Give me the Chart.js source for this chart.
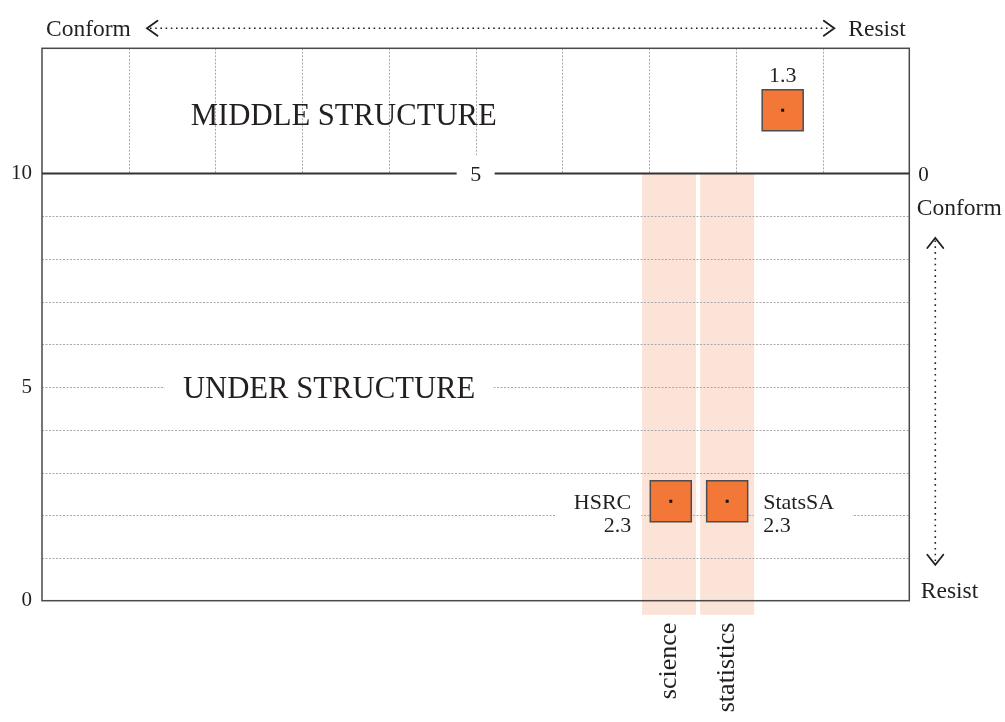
<!DOCTYPE html>
<html>
<head>
<meta charset="utf-8">
<script src="https://cdn.jsdelivr.net/npm/chart.js@4.4.1/dist/chart.umd.min.js"></script>
<style>
  html, body { margin: 0; padding: 0; background: #fff; }
</style>
</head>
<body>
<canvas id="chart" width="1005" height="722"></canvas>
<script>
// shaded columns along the bottom (x position on the conform-resist scale)
const categories = ['science', 'statistics'];
const categoryX = [2.77, 2.1];
const bandRange = [-0.33, 10];

// organisations in the under structure
const orgNames = ['HSRC', 'StatsSA'];
const orgX = [2.75, 2.1];
const orgY = [2.33, 2.33];
const orgScores = ['2.3', '2.3'];

// point in the middle structure
const middleX = [1.46];
const middleY = [11.48];
const middleScores = ['1.3'];

// axes
const yTicks = [0, 5, 10];
const gridRows = [1, 2, 3, 4, 5, 6, 7, 8, 9];
const gridCols = [1, 2, 3, 4, 5, 6, 7, 8, 9];

const FONT = "'Liberation Serif', 'Times New Roman', serif";
const INK = '#231f20';

Chart.defaults.font.family = FONT;
Chart.defaults.color = INK;

function line(ctx, x1, y1, x2, y2) {
    ctx.beginPath();
    ctx.moveTo(x1, y1);
    ctx.lineTo(x2, y2);
    ctx.stroke();
}

// open arrow head, tip at (x, y), pointing along dx/dy
function chevron(ctx, x, y, dx, dy, len, half) {
    ctx.beginPath();
    ctx.moveTo(x - dx * len + dy * half, y - dy * len + dx * half);
    ctx.lineTo(x, y);
    ctx.lineTo(x - dx * len - dy * half, y - dy * len - dx * half);
    ctx.stroke();
}

function text(ctx, str, x, y, size, align, baseline) {
    ctx.font = size + 'px ' + FONT;
    ctx.textAlign = align || 'left';
    ctx.textBaseline = baseline || 'alphabetic';
    ctx.fillStyle = INK;
    ctx.fillText(str, x, y);
}

const decor = {
    id: 'decor',
    // dotted grid goes over the shaded columns but under the squares
    afterDatasetDraw(chart, args) {
        if (args.index !== 0) return;
        const { ctx, chartArea: ca, scales: { x, y } } = chart;
        ctx.save();
        ctx.strokeStyle = '#a9a9a9';
        ctx.lineWidth = 1;
        ctx.setLineDash([2, 1.5]);
        gridRows.forEach(v => {
            const py = Math.round(y.getPixelForValue(v)) + 0.5;
            line(ctx, ca.left, py, ca.right, py);
        });
        const y10 = y.getPixelForValue(10);
        gridCols.forEach(v => {
            const px = Math.round(x.getPixelForValue(v)) + 0.5;
            line(ctx, px, ca.top, px, y10);
        });
        ctx.restore();
    },
    afterDatasetsDraw(chart) {
        const { ctx, chartArea: ca, scales: { x, y } } = chart;
        const y10 = y.getPixelForValue(10);
        ctx.save();

        // frame and the divider between the two structures
        ctx.strokeStyle = '#4a4a4a';
        ctx.lineWidth = 1.5;
        ctx.strokeRect(ca.left, ca.top, ca.right - ca.left, ca.bottom - ca.top);
        ctx.strokeStyle = '#333';
        ctx.lineWidth = 2;
        line(ctx, ca.left, y10, ca.right, y10);

        // "5" sitting on the divider
        const x5 = x.getPixelForValue(5);
        ctx.fillStyle = '#fff';
        ctx.fillRect(x5 - 19, y10 - 18, 38, 30);
        text(ctx, '5', x5, y10 + 7.5, 22, 'center');

        // section titles
        text(ctx, 'MIDDLE STRUCTURE', x.getPixelForValue(6.52), y.getPixelForValue(11.39) + 10.5, 30.7, 'center');
        const ux = x.getPixelForValue(6.69), uy = y.getPixelForValue(5);
        ctx.font = '30.7px ' + FONT;
        const uw = ctx.measureText('UNDER STRUCTURE').width;
        ctx.fillStyle = '#fff';
        ctx.fillRect(ux - uw / 2 - 18, uy - 14, uw + 36, 28);
        text(ctx, 'UNDER STRUCTURE', ux, uy + 10.5, 30.7, 'center');

        // middle point score
        middleX.forEach((v, i) => {
            text(ctx, middleScores[i], x.getPixelForValue(v), y.getPixelForValue(middleY[i]) - 28.5, 22, 'center');
        });

        // organisation labels: first one to the left, second to the right
        orgNames.forEach((name, i) => {
            const px = x.getPixelForValue(orgX[i]);
            const py = y.getPixelForValue(orgY[i]);
            const left = i === 0;
            ctx.font = '22px ' + FONT;
            const w = Math.max(ctx.measureText(name).width, ctx.measureText(orgScores[i]).width);
            const tx = left ? px - 39.5 : px + 36;
            ctx.fillStyle = '#fff';
            if (left) ctx.fillRect(tx - w - 18, py - 14, w + 28, 46);
            else ctx.fillRect(tx - 9, py - 14, w + 27, 46);
            text(ctx, name, tx, py + 8, 22, left ? 'right' : 'left');
            text(ctx, orgScores[i], tx, py + 31, 22, left ? 'right' : 'left');
        });
        ctx.restore();
    },
    afterDraw(chart) {
        const { ctx, chartArea: ca, scales: { x, y } } = chart;
        const y10 = y.getPixelForValue(10);
        ctx.save();
        ctx.lineCap = 'round';

        // top: Conform <....> Resist
        const ay = ca.top - 20;
        text(ctx, 'Conform', ca.left + 4, ca.top - 12.5, 23.5);
        text(ctx, 'Resist', ca.right - 61, ca.top - 12.5, 23.5);
        ctx.strokeStyle = INK;
        ctx.lineWidth = 1.8;
        chevron(ctx, ca.left + 105, ay, -1, 0, 10.5, 7.5);
        chevron(ctx, ca.right - 75, ay, 1, 0, 10.5, 7.5);
        ctx.lineWidth = 1.6;
        ctx.lineCap = 'butt';
        ctx.setLineDash([1.6, 3.6]);
        line(ctx, ca.left + 108, ay, ca.right - 78, ay);
        ctx.setLineDash([]);
        ctx.lineCap = 'round';

        // right: 0 / Conform ^....v Resist
        text(ctx, '0', ca.right + 9, y10 + 8, 21);
        text(ctx, 'Conform', ca.right + 7.5, y10 + 41.5, 23.5);
        text(ctx, 'Resist', ca.right + 11.5, ca.bottom - 3, 23.5);
        const vx = ca.right + 26;
        ctx.lineWidth = 1.8;
        chevron(ctx, vx, y10 + 64.5, 0, -1, 10, 8);
        chevron(ctx, vx, ca.bottom - 36, 0, 1, 10, 8);
        ctx.lineWidth = 1.6;
        ctx.lineCap = 'butt';
        ctx.setLineDash([1.6, 4.2]);
        line(ctx, vx, y10 + 67, vx, ca.bottom - 38);
        ctx.setLineDash([]);

        // category names under the shaded columns
        categories.forEach((c, i) => {
            const px = x.getPixelForValue(categoryX[i]);
            ctx.save();
            ctx.translate(px + 7, ca.bottom + 22);
            ctx.rotate(-Math.PI / 2);
            text(ctx, c, 0, 0, 26, 'right');
            ctx.restore();
        });
        ctx.restore();
    }
};

new Chart(document.getElementById('chart'), {
    type: 'scatter',
    data: {
        datasets: [
            {
                type: 'bar',
                data: categoryX.map(v => ({ x: v, y: bandRange })),
                backgroundColor: '#fbe3d8',
                borderWidth: 0,
                barThickness: 54,
                inflateAmount: 0,
                clip: false,
                order: 3
            },
            {
                data: orgX.map((v, i) => ({ x: v, y: orgY[i] }))
                    .concat(middleX.map((v, i) => ({ x: v, y: middleY[i] }))),
                pointStyle: 'rect',
                pointRadius: 29,
                backgroundColor: '#f37737',
                borderColor: '#4d4d4d',
                borderWidth: 1.5,
                order: 2
            },
            {
                data: orgX.map((v, i) => ({ x: v, y: orgY[i] }))
                    .concat(middleX.map((v, i) => ({ x: v, y: middleY[i] }))),
                pointStyle: 'rect',
                pointRadius: 2.1,
                backgroundColor: '#111',
                borderWidth: 0,
                order: 1
            }
        ]
    },
    options: {
        responsive: false,
        animation: false,
        events: [],
        layout: { padding: { left: 0, top: 48.3, right: 95.7, bottom: 121.3 } },
        plugins: { legend: { display: false }, tooltip: { enabled: false } },
        scales: {
            x: {
                type: 'linear',
                min: 0,
                max: 10,
                reverse: true,
                offset: false,
                display: false,
                grid: { display: false, offset: false }
            },
            y: {
                type: 'linear',
                min: 0,
                max: 12.93,
                afterBuildTicks: axis => { axis.ticks = yTicks.map(v => ({ value: v })); },
                afterFit: axis => { axis.width = 42; },
                grid: { display: false, drawTicks: false },
                border: { display: false },
                ticks: { padding: 10, color: INK, font: { size: 21 } }
            }
        }
    },
    plugins: [decor]
});
</script>
</body>
</html>
